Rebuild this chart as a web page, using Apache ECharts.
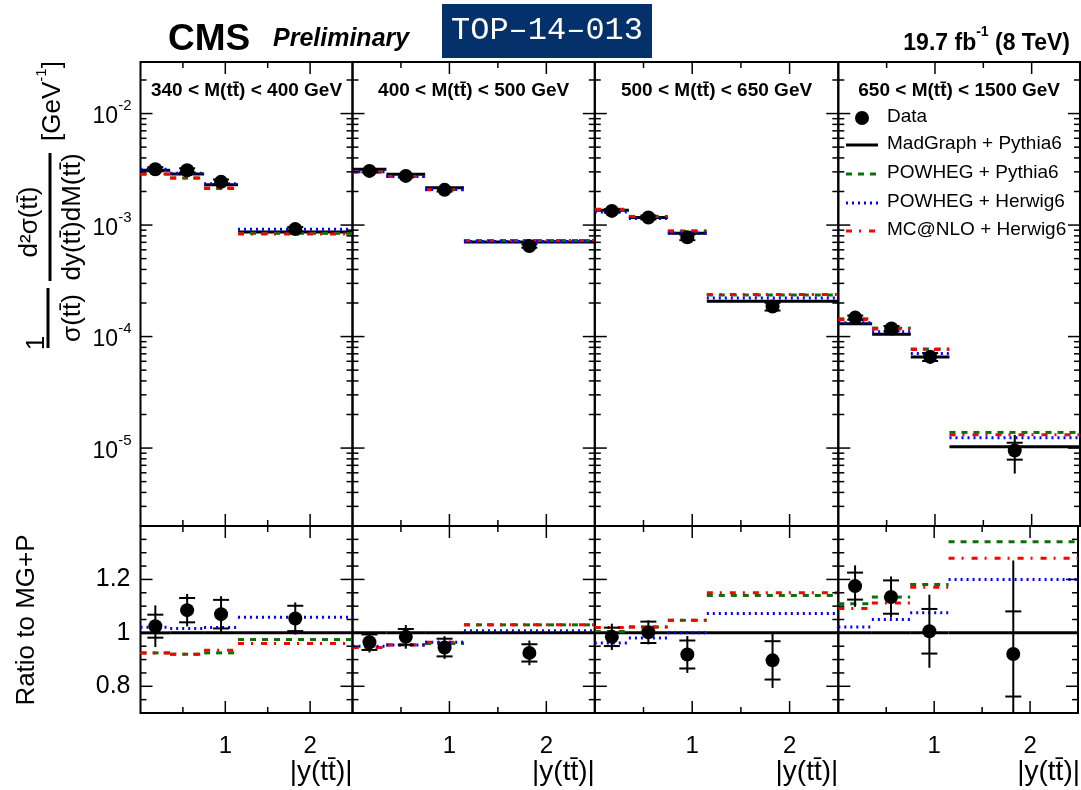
<!DOCTYPE html>
<html><head><meta charset="utf-8">
<script src="https://cdn.jsdelivr.net/npm/echarts@6/dist/echarts.min.js"></script>
<style>html,body{margin:0;padding:0;background:#fff}#c{width:1081px;height:790px}</style>
</head><body><div id="c"></div>
<script>
// ---------------- DATA ----------------
const TB = 't\u0304';
const panelLabels = ['340 < M(t' + TB + ') < 400 GeV', '400 < M(t' + TB + ') < 500 GeV', '500 < M(t' + TB + ') < 650 GeV', '650 < M(t' + TB + ') < 1500 GeV'];
const binLo = [0, 0.35, 0.75, 1.15];
const binHi = [0.35, 0.75, 1.15, 2.5];
const binCenters = [0.175, 0.55, 0.95, 1.825];

// MadGraph+Pythia6 normalized cross sections (top panels)
const mgTop = [
  [3.10e-3, 2.87e-3, 2.30e-3, 8.65e-4],
  [3.17e-3, 2.86e-3, 2.16e-3, 7.05e-4],
  [1.36e-3, 1.17e-3, 8.43e-4, 2.07e-4],
  [1.30e-4, 1.05e-4, 6.55e-5, 1.03e-5]
];
// Data (top panels)
const dataTop = [
  [3.17e-3, 3.10e-3, 2.44e-3, 9.2e-4],
  [3.06e-3, 2.76e-3, 2.07e-3, 6.49e-4],
  [1.34e-3, 1.17e-3, 7.76e-4, 1.86e-4],
  [1.48e-4, 1.18e-4, 6.58e-5, 9.52e-6]
];
// Ratios to MG+P
const mgRatio = [[1, 1, 1, 1], [1, 1, 1, 1], [1, 1, 1, 1], [1, 1, 1, 1]];
const dataRatio = [
  [1.025, 1.085, 1.07, 1.054],
  [0.965, 0.985, 0.945, 0.925],
  [0.985, 1.002, 0.919, 0.897],
  [1.175, 1.134, 1.006, 0.921]
];
const powPyRatio = [
  [0.925, 0.92, 0.925, 0.975],
  [0.945, 0.955, 0.96, 1.03],
  [1.005, 1.022, 1.047, 1.14],
  [1.109, 1.134, 1.181, 1.341]
];
const powHwRatio = [
  [1.021, 1.016, 1.02, 1.058],
  [0.95, 0.955, 0.965, 1.008],
  [0.962, 0.981, 1.0, 1.072],
  [1.022, 1.05, 1.075, 1.2]
];
const mcnloRatio = [
  [0.925, 0.92, 0.935, 0.96],
  [0.945, 0.955, 0.965, 1.03],
  [1.02, 1.022, 1.047, 1.15],
  [1.091, 1.112, 1.171, 1.279]
];
// relative uncertainties of data (stat, total)
const statErr = [
  [0.042, 0.042, 0.05, 0.045],
  [0.03, 0.03, 0.035, 0.035],
  [0.035, 0.04, 0.057, 0.08],
  [0.043, 0.055, 0.083, 0.173]
];
const totErr = [
  [0.076, 0.056, 0.063, 0.057],
  [0.04, 0.045, 0.045, 0.05],
  [0.05, 0.045, 0.075, 0.115],
  [0.066, 0.068, 0.136, 0.38]
];
// tick labels
const xTickLabels = [1, 2];
const xTicksMajor = [1, 2];
const xTicksMinor = [0.5, 1.5];
const logMajorExps = [-5, -4, -3, -2];
const ratioTickLabels = [0.8, 1, 1.2];
const ratioTicksMinor = [0.75, 0.85, 0.9, 0.95, 1.05, 1.1, 1.15, 1.25, 1.3, 1.35];
const legendNames = ['Data', 'MadGraph + Pythia6', 'POWHEG + Pythia6', 'POWHEG + Herwig6', 'MC@NLO + Herwig6'];

// ---------------- LAYOUT / STYLE ----------------
const FONT = '"Liberation Sans", Arial, Helvetica, sans-serif';
const panelL = [140.5, 352.5, 594.8, 838.3];
const panelR = [352.5, 594.8, 838.3, 1080];
const topY = 62, topH = 464, ratY = 526, ratH = 187;
const logMin = 2e-6, logMax = 0.029, ratMin = 0.7, ratMax = 1.4, xMin = 0, xMax = 2.5;
const GREEN = '#0a700a', BLUE = '#0000ff', RED = '#ff0000';
const styles = {
  mg: { color: '#000', dash: null, w: 3 },
  powpy: { color: GREEN, dash: [6, 6], w: 3 },
  powhw: { color: BLUE, dash: [2, 4], w: 3 },
  mcnlo: { color: RED, dash: [6, 7, 2, 8], w: 3 }
};

const grids = [], xAxes = [], yAxes = [], series = [];
for (let g = 0; g < 8; g++) {
  const p = g % 4, isTop = g < 4;
  grids.push({ left: panelL[p], top: isTop ? topY : ratY, width: panelR[p] - panelL[p], height: isTop ? topH : ratH,
    show: true, borderColor: '#000', borderWidth: 2, backgroundColor: 'transparent' });
  xAxes.push({ gridIndex: g, type: 'value', min: xMin, max: xMax, interval: 0.5,
    axisLine: { show: false }, axisTick: { show: false }, splitLine: { show: false },
    axisLabel: { show: !isTop, margin: 21, fontSize: 24, color: '#000', fontFamily: FONT,
      formatter: v => xTickLabels.some(t => Math.abs(t - v) < 1e-6) ? String(Math.round(v)) : '' } });
  if (isTop) {
    yAxes.push({ gridIndex: g, type: 'log', logBase: 10, min: logMin, max: logMax,
      axisLine: { show: false }, axisTick: { show: false }, splitLine: { show: false },
      axisLabel: { show: g === 0, margin: 9, color: '#000', fontFamily: FONT,
        formatter: v => { const e = Math.log10(v); const r = Math.round(e);
          return (Math.abs(e - r) < 1e-6 && logMajorExps.includes(r)) ? '{b|10}{s|' + r + '}' : ''; },
        rich: { b: { fontSize: 23, fontFamily: FONT, color: '#000', verticalAlign: 'bottom', lineHeight: 30 },
                s: { fontSize: 15, fontFamily: FONT, color: '#000', verticalAlign: 'top', lineHeight: 30 } } } });
  } else {
    yAxes.push({ gridIndex: g, type: 'value', min: ratMin, max: ratMax, interval: 0.05,
      axisLine: { show: false }, axisTick: { show: false }, splitLine: { show: false },
      axisLabel: { show: g === 4, margin: 10, fontSize: 25, color: '#000', fontFamily: FONT,
        formatter: v => { const t = ratioTickLabels.find(t => Math.abs(t - v) < 1e-6);
          return t === undefined ? '' : (t === 1 ? '1' : t.toFixed(1)); } } });
  }
}

// ticks (all four sides)
function tickItems(isTop) {
  const items = [];
  const yLo = isTop ? logMin : ratMin, yHi = isTop ? logMax : ratMax;
  xTicksMajor.forEach(v => { items.push([v, yLo, 12, 2]); items.push([v, yHi, 12, 3]); });
  xTicksMinor.forEach(v => { items.push([v, yLo, 6, 2]); items.push([v, yHi, 6, 3]); });
  let yMaj = [], yMin = [];
  if (isTop) {
    logMajorExps.forEach(e => yMaj.push(Math.pow(10, e)));
    for (let e = -6; e <= -2; e++) for (let k = 2; k <= 9; k++) {
      const v = k * Math.pow(10, e); if (v > logMin && v < logMax) yMin.push(v);
    }
  } else { yMaj = ratioTickLabels.slice(); yMin = ratioTicksMinor.slice(); }
  yMaj.forEach(v => { items.push([xMin, v, 12, 0]); items.push([xMax, v, 12, 1]); });
  yMin.forEach(v => { items.push([xMin, v, 6, 0]); items.push([xMax, v, 6, 1]); });
  return items;
}
function tickSeries(g) {
  return { type: 'custom', xAxisIndex: g, yAxisIndex: g, silent: true, z: 5,
    encode: { x: 0, y: 1 }, data: tickItems(g < 4),
    renderItem: (params, api) => {
      const p = api.coord([api.value(0), api.value(1)]);
      const len = api.value(2), side = api.value(3);
      let x2 = p[0], y2 = p[1];
      if (side === 0) x2 += len; else if (side === 1) x2 -= len; else if (side === 2) y2 -= len; else y2 += len;
      return { type: 'line', shape: { x1: p[0], y1: p[1], x2: x2, y2: y2 }, style: { stroke: '#000', lineWidth: 1.5 } };
    } };
}
function stepSeries(g, vals, st, z) {
  return { type: 'custom', xAxisIndex: g, yAxisIndex: g, silent: true, z: z,
    encode: { x: [0, 1], y: 2 },
    data: vals.map((v, i) => [binLo[i], binHi[i], v]),
    renderItem: (params, api) => {
      const a = api.coord([api.value(0), api.value(2)]);
      const b = api.coord([api.value(1), api.value(2)]);
      const style = { stroke: st.color, lineWidth: st.w, fill: null };
      if (st.dash) style.lineDash = st.dash;
      return { type: 'line', shape: { x1: a[0], y1: a[1], x2: b[0], y2: b[1] }, style: style };
    } };
}
function errSeries(g, vals, p) {
  return { type: 'custom', xAxisIndex: g, yAxisIndex: g, silent: true, z: 9,
    encode: { x: 0, y: 1 },
    data: vals.map((v, i) => [binCenters[i], v, statErr[p][i], totErr[p][i]]),
    renderItem: (params, api) => {
      const cs = params.coordSys;
      const x = api.value(0), v = api.value(1), s = api.value(2), t = api.value(3);
      const clamp = y => Math.max(cs.y, Math.min(cs.y + cs.height, y));
      const pc = api.coord([x, v]);
      const yTh = clamp(api.coord([x, v * (1 + t)])[1]);
      const yTl = clamp(api.coord([x, v * (1 - t)])[1]);
      const ySh = api.coord([x, v * (1 + s)])[1];
      const ySl = api.coord([x, v * (1 - s)])[1];
      const ch = [{ type: 'line', shape: { x1: pc[0], y1: yTh, x2: pc[0], y2: yTl }, style: { stroke: '#000', lineWidth: 2 } }];
      [ySh, ySl].forEach(y => { if (y >= cs.y && y <= cs.y + cs.height)
        ch.push({ type: 'line', shape: { x1: pc[0] - 8, y1: y, x2: pc[0] + 8, y2: y }, style: { stroke: '#000', lineWidth: 2 } }); });
      return { type: 'group', children: ch };
    } };
}
function dataSeries(g, vals) {
  return { type: 'scatter', xAxisIndex: g, yAxisIndex: g, symbol: 'circle', symbolSize: 14, z: 10, silent: true,
    itemStyle: { color: '#000', opacity: 1 }, emphasis: { disabled: true },
    data: binCenters.map((x, i) => [x, vals[i]]) };
}

for (let p = 0; p < 4; p++) {
  const gt = p, gr = p + 4;
  // top panel
  series.push(stepSeries(gt, mgTop[p], styles.mg, 3));
  series.push(stepSeries(gt, mgTop[p].map((m, i) => m * powPyRatio[p][i]), styles.powpy, 4));
  series.push(stepSeries(gt, mgTop[p].map((m, i) => m * mcnloRatio[p][i]), styles.mcnlo, 4));
  series.push(stepSeries(gt, mgTop[p].map((m, i) => m * powHwRatio[p][i]), styles.powhw, 4));
  series.push(errSeries(gt, dataTop[p], p));
  series.push(dataSeries(gt, dataTop[p]));
  series.push(tickSeries(gt));
  // ratio panel
  series.push(stepSeries(gr, mgRatio[p], styles.mg, 3));
  series.push(stepSeries(gr, powPyRatio[p], styles.powpy, 4));
  series.push(stepSeries(gr, mcnloRatio[p], styles.mcnlo, 4));
  series.push(stepSeries(gr, powHwRatio[p], styles.powhw, 4));
  series.push(errSeries(gr, dataRatio[p], p));
  series.push(dataSeries(gr, dataRatio[p]));
  series.push(tickSeries(gr));
}

// ---------------- GRAPHIC TEXT ----------------
const graphic = [];
function txt(x, y, text, opt) {
  opt = opt || {};
  const el = { type: 'text', x: x, y: y, rotation: opt.rot || 0, z: 100, silent: true,
    style: { text: text, x: 0, y: 0, fill: opt.color || '#000',
      fontSize: opt.size || 20, fontWeight: opt.weight || 'normal', fontStyle: opt.style || 'normal',
      fontFamily: opt.family || FONT, textAlign: opt.align || 'left', textVerticalAlign: opt.va || 'middle' } };
  if (opt.rich) el.style.rich = opt.rich;
  graphic.push(el);
}
// header
txt(168, 40, 'CMS', { size: 37, weight: 'bold' });
txt(273, 39, 'Preliminary', { size: 25, weight: 'bold', style: 'italic' });
graphic.push({ type: 'rect', shape: { x: 442, y: 4, width: 210, height: 54 }, style: { fill: '#05316a' }, z: 99, silent: true });
txt(547, 31, 'TOP\u201314\u2013013', { size: 32, family: '"Liberation Mono", "Courier New", monospace', color: '#fff', align: 'center' });
txt(1070, 40, '{a|19.7 fb}{s|-1}{a| (8 TeV)}', { align: 'right',
  rich: { a: { fontSize: 23, fontWeight: 'bold', fontFamily: FONT, color: '#000', verticalAlign: 'bottom', lineHeight: 30 },
          s: { fontSize: 14, fontWeight: 'bold', fontFamily: FONT, color: '#000', verticalAlign: 'top', lineHeight: 30 } } });
// panel labels
for (let p = 0; p < 4; p++) {
  txt((panelL[p] + panelR[p]) / 2, 91, panelLabels[p], { size: 19, weight: 'bold', align: 'center' });
  txt(panelR[p], 772, '|y(t' + TB + ')|', { size: 28, align: 'right' });
}
// y titles
const R90 = Math.PI / 2;
txt(37, 343, '1', { size: 26, rot: R90, align: 'center' });
graphic.push({ type: 'line', shape: { x1: 48, y1: 288, x2: 48, y2: 348 }, style: { stroke: '#000', lineWidth: 3 }, silent: true });
txt(73, 318, '\u03c3(t' + TB + ')', { size: 26, rot: R90, align: 'center' });
txt(30, 222, 'd\u00b2\u03c3(t' + TB + ')', { size: 26, rot: R90, align: 'center' });
graphic.push({ type: 'line', shape: { x1: 50, y1: 153, x2: 50, y2: 281 }, style: { stroke: '#000', lineWidth: 3 }, silent: true });
txt(73, 217, 'dy(t' + TB + ')dM(t' + TB + ')', { size: 26, rot: R90, align: 'center' });
txt(50, 101, '{a|[GeV}{s|-1}{a|]}', { rot: R90, align: 'center',
  rich: { a: { fontSize: 26, fontFamily: FONT, color: '#000', verticalAlign: 'bottom', lineHeight: 32 },
          s: { fontSize: 15, fontFamily: FONT, color: '#000', verticalAlign: 'top', lineHeight: 32 } } });
txt(27, 620, 'Ratio to MG+P', { size: 26, rot: R90, align: 'center' });
// legend
const legY = [118, 145, 174, 203, 231];
graphic.push({ type: 'circle', shape: { cx: 862, cy: legY[0], r: 7 }, style: { fill: '#000' }, silent: true, z: 100 });
const legSt = [styles.mg, styles.powpy, styles.powhw, styles.mcnlo];
legSt.forEach((st, i) => {
  const s = { stroke: st.color, lineWidth: 3 };
  if (st.dash) s.lineDash = st.dash;
  graphic.push({ type: 'line', shape: { x1: 846, y1: legY[i + 1], x2: 878, y2: legY[i + 1] }, style: s, silent: true, z: 100 });
});
legendNames.forEach((n, i) => txt(887, legY[i] - 1, n, { size: 19 }));

const chart = echarts.init(document.getElementById('c'), null, { renderer: 'canvas' });
chart.setOption({ animation: false, backgroundColor: '#fff', grid: grids, xAxis: xAxes, yAxis: yAxes, series: series, graphic: graphic });
</script></body></html>
